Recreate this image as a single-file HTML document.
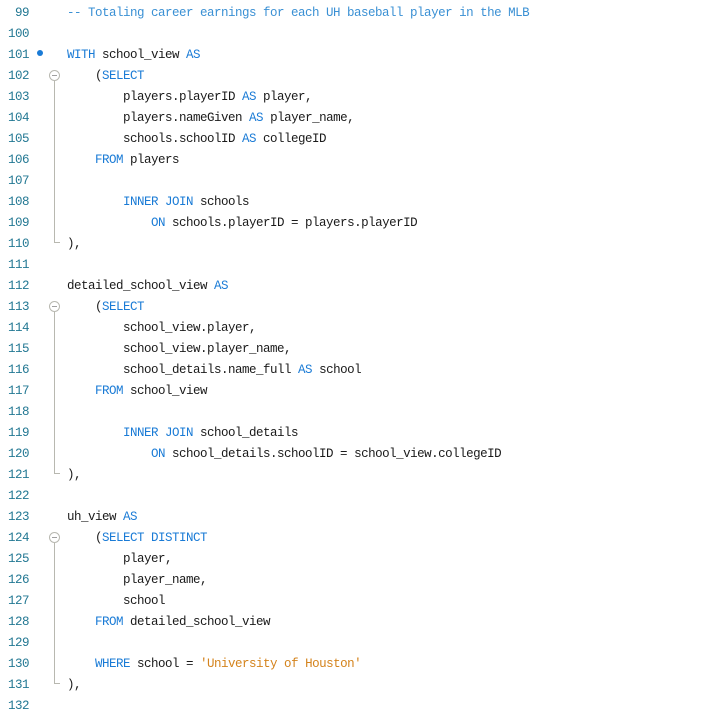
<!DOCTYPE html>
<html><head><meta charset="utf-8"><style>
body{margin:0;background:#fff;width:713px;height:712px;overflow:hidden;position:relative;font-family:"Liberation Mono","DejaVu Sans Mono",monospace;}
.l{position:absolute;left:0;height:21px;line-height:21px;font-size:12.5px;letter-spacing:-0.5px;white-space:pre;width:713px}
.n{position:absolute;right:684px;color:#237893;text-align:right}
.c{position:absolute;left:67px;color:#1a1a1a}
.k{color:#1a7bd6}.m{color:#3a90d4}.s{color:#d4831c}
.fold{position:absolute;left:54px;width:1px;background:#b8b8b0}
.corner{position:absolute;left:54px;width:6px;height:1px;background:#b8b8b0}
.circ{position:absolute;left:49px;width:9px;height:9px;border:1px solid #b8b8b0;border-radius:50%;background:#fff}
.circ:after{content:"";position:absolute;left:2px;top:4px;width:5px;height:1px;background:#a0a0a0}
.dot{position:absolute;left:37px;top:50px;width:6px;height:6px;border-radius:50%;background:#1a7bd6}
</style></head><body>
<div class="l" style="top:3px"><span class="n">99</span><span class="c m">-- Totaling career earnings for each UH baseball player in the MLB</span></div>
<div class="l" style="top:24px"><span class="n">100</span></div>
<div class="l" style="top:45px"><span class="n">101</span><span class="c"><span class="k">WITH</span> school_view <span class="k">AS</span></span></div>
<div class="l" style="top:66px"><span class="n">102</span><span class="c">    (<span class="k">SELECT</span></span></div>
<div class="l" style="top:87px"><span class="n">103</span><span class="c">        players.playerID <span class="k">AS</span> player,</span></div>
<div class="l" style="top:108px"><span class="n">104</span><span class="c">        players.nameGiven <span class="k">AS</span> player_name,</span></div>
<div class="l" style="top:129px"><span class="n">105</span><span class="c">        schools.schoolID <span class="k">AS</span> collegeID</span></div>
<div class="l" style="top:150px"><span class="n">106</span><span class="c">    <span class="k">FROM</span> players</span></div>
<div class="l" style="top:171px"><span class="n">107</span></div>
<div class="l" style="top:192px"><span class="n">108</span><span class="c">        <span class="k">INNER JOIN</span> schools</span></div>
<div class="l" style="top:213px"><span class="n">109</span><span class="c">            <span class="k">ON</span> schools.playerID = players.playerID</span></div>
<div class="l" style="top:234px"><span class="n">110</span><span class="c">),</span></div>
<div class="l" style="top:255px"><span class="n">111</span></div>
<div class="l" style="top:276px"><span class="n">112</span><span class="c">detailed_school_view <span class="k">AS</span></span></div>
<div class="l" style="top:297px"><span class="n">113</span><span class="c">    (<span class="k">SELECT</span></span></div>
<div class="l" style="top:318px"><span class="n">114</span><span class="c">        school_view.player,</span></div>
<div class="l" style="top:339px"><span class="n">115</span><span class="c">        school_view.player_name,</span></div>
<div class="l" style="top:360px"><span class="n">116</span><span class="c">        school_details.name_full <span class="k">AS</span> school</span></div>
<div class="l" style="top:381px"><span class="n">117</span><span class="c">    <span class="k">FROM</span> school_view</span></div>
<div class="l" style="top:402px"><span class="n">118</span></div>
<div class="l" style="top:423px"><span class="n">119</span><span class="c">        <span class="k">INNER JOIN</span> school_details</span></div>
<div class="l" style="top:444px"><span class="n">120</span><span class="c">            <span class="k">ON</span> school_details.schoolID = school_view.collegeID</span></div>
<div class="l" style="top:465px"><span class="n">121</span><span class="c">),</span></div>
<div class="l" style="top:486px"><span class="n">122</span></div>
<div class="l" style="top:507px"><span class="n">123</span><span class="c">uh_view <span class="k">AS</span></span></div>
<div class="l" style="top:528px"><span class="n">124</span><span class="c">    (<span class="k">SELECT DISTINCT</span></span></div>
<div class="l" style="top:549px"><span class="n">125</span><span class="c">        player,</span></div>
<div class="l" style="top:570px"><span class="n">126</span><span class="c">        player_name,</span></div>
<div class="l" style="top:591px"><span class="n">127</span><span class="c">        school</span></div>
<div class="l" style="top:612px"><span class="n">128</span><span class="c">    <span class="k">FROM</span> detailed_school_view</span></div>
<div class="l" style="top:633px"><span class="n">129</span></div>
<div class="l" style="top:654px"><span class="n">130</span><span class="c">    <span class="k">WHERE</span> school = <span class="s">'University of Houston'</span></span></div>
<div class="l" style="top:675px"><span class="n">131</span><span class="c">),</span></div>
<div class="l" style="top:696px"><span class="n">132</span></div>
<div class="dot"></div>
<div class="fold" style="top:81px;height:161px"></div><div class="corner" style="top:242px"></div><div class="circ" style="top:70px"></div>
<div class="fold" style="top:312px;height:161px"></div><div class="corner" style="top:473px"></div><div class="circ" style="top:301px"></div>
<div class="fold" style="top:543px;height:140px"></div><div class="corner" style="top:683px"></div><div class="circ" style="top:532px"></div>
</body></html>
